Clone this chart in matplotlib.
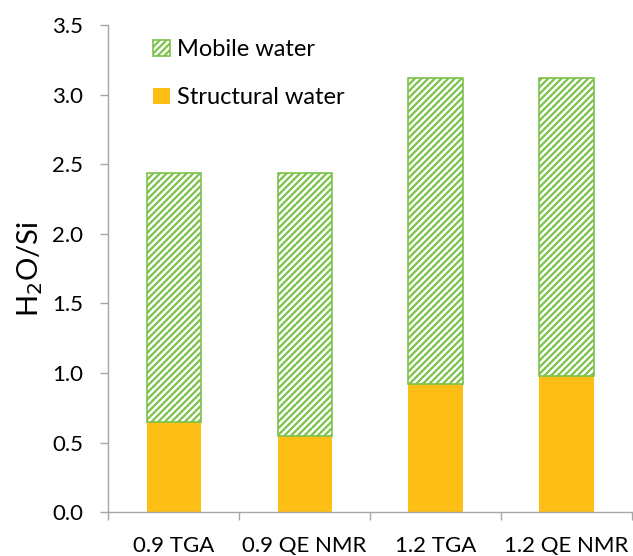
import matplotlib
matplotlib.use("Agg")
import matplotlib.pyplot as plt
import matplotlib.patches as patches
import numpy as np

# values
categories = ["0.9 TGA", "0.9 QE NMR", "1.2 TGA", "1.2 QE NMR"]
structural = [0.65, 0.55, 0.92, 0.98]
mobile = [1.79, 1.89, 2.20, 2.14]
yticks = [0.0, 0.5, 1.0, 1.5, 2.0, 2.5, 3.0, 3.5]

orange = "#FDBF16"
green = "#7BC24A"
gray = "#A6A6A6"

plt.rcParams["font.family"] = ["Lato", "DejaVu Sans"]
plt.rcParams["hatch.linewidth"] = 1.6
plt.rcParams["hatch.color"] = green

fig = plt.figure(figsize=(6.33, 5.56), dpi=100)
ax = fig.add_axes([0.1711, 0.0786, 0.8273, 0.8764])

x = np.arange(len(categories))
width = 0.415
ax.bar(x, structural, width, color=orange, linewidth=0)
ax.bar(x, mobile, width, bottom=structural, facecolor="white",
       edgecolor=green, hatch="/////", linewidth=1.2)

ax.set_xlim(-0.5, len(categories) - 0.5)
ax.set_ylim(0, 3.5)
ax.set_yticks(yticks)
ax.set_yticklabels([f"{v:.1f}" for v in yticks])

# category labels centred, tick marks on the boundaries (Excel style)
ax.set_xticks(x)
ax.set_xticklabels(categories)
ax.set_xticks(np.arange(-0.5, len(categories)), minor=True)
ax.tick_params(axis="x", which="major", length=0, pad=17, labelsize=16)
ax.tick_params(axis="x", which="minor", length=6, color=gray, width=1)
ax.tick_params(axis="y", length=6, color=gray, width=1, labelsize=16, pad=12)

for side in ["top", "right"]:
    ax.spines[side].set_visible(False)
for side in ["left", "bottom"]:
    ax.spines[side].set_color(gray)
    ax.spines[side].set_linewidth(1)

ax.set_ylabel("H$_2$O/Si", fontsize=21, labelpad=5)

handles = [
    patches.Patch(facecolor="white", edgecolor=green, hatch="/////", linewidth=1.2, label="Mobile water"),
    patches.Patch(facecolor=orange, linewidth=0, label="Structural water"),
]
ax.legend(handles=handles, loc="upper left", bbox_to_anchor=(0.086, 0.971),
          frameon=False, fontsize=17, handlelength=0.7, handleheight=0.7,
          handletextpad=0.3, labelspacing=1.15, borderpad=0, borderaxespad=0)

fig.savefig("out.png", dpi=100)
